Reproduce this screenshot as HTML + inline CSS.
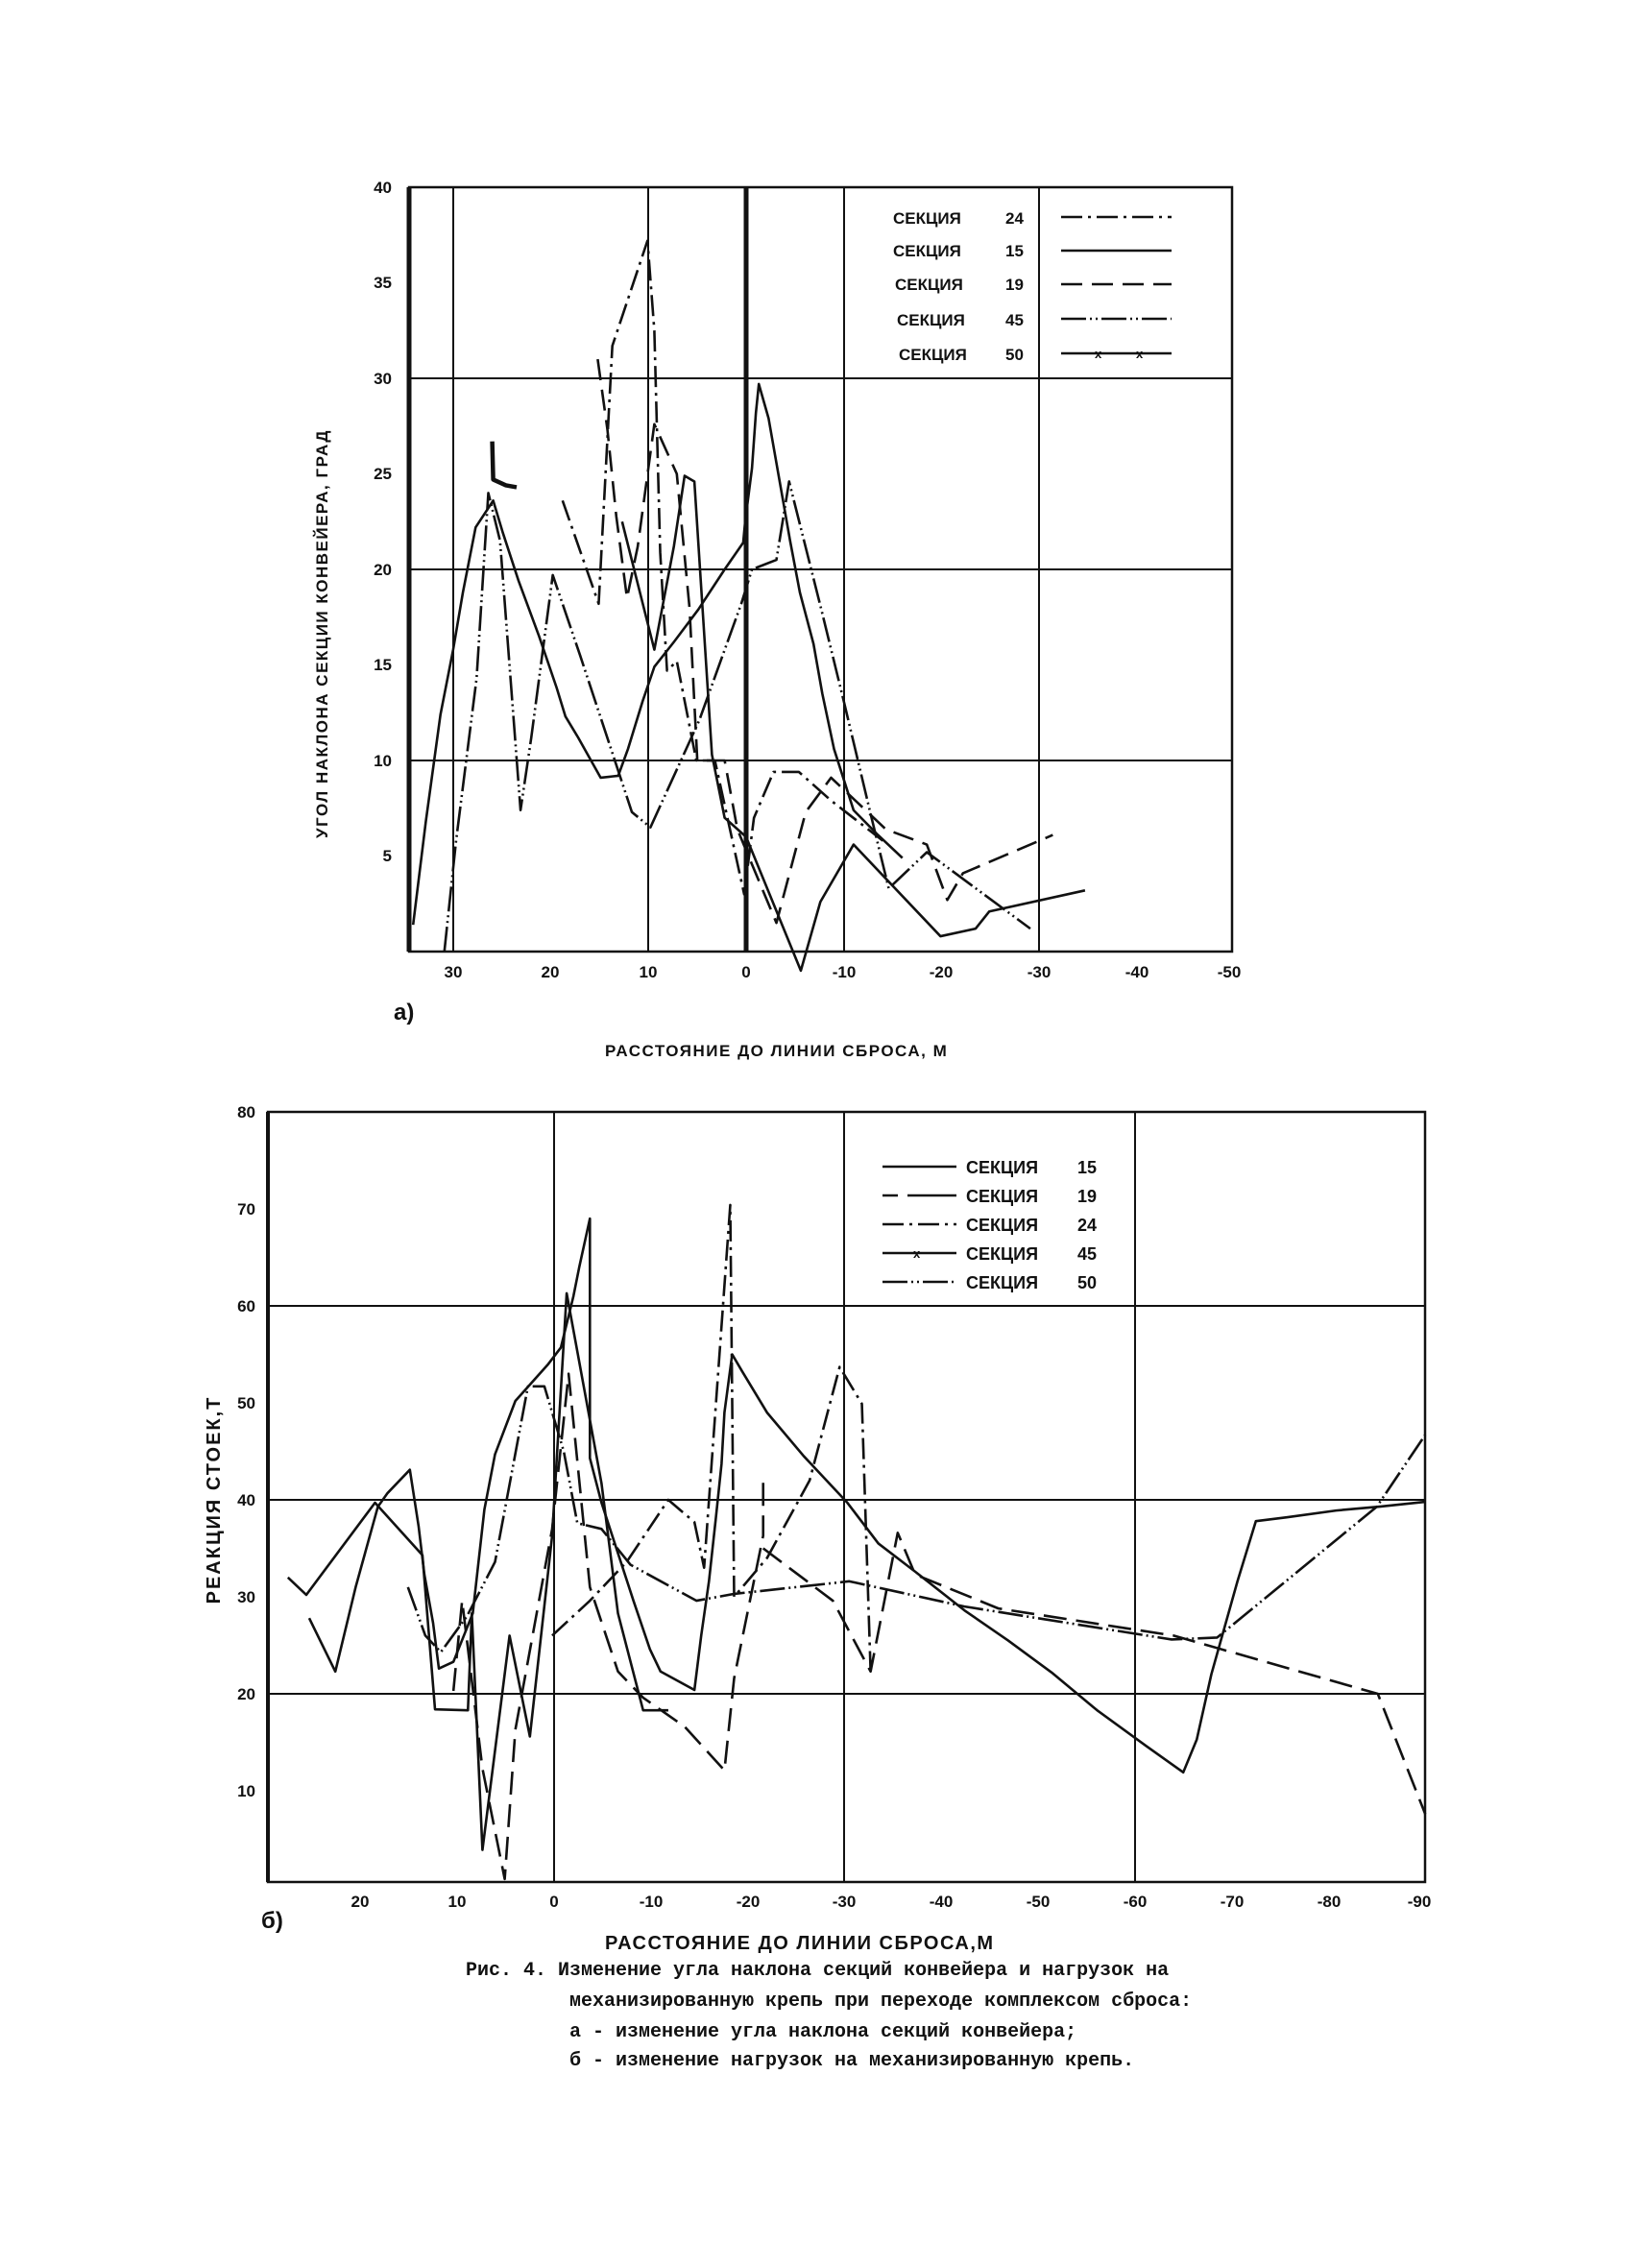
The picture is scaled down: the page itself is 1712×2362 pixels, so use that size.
<!DOCTYPE html>
<html><head><meta charset="utf-8"><style>
body{margin:0;background:#fff}
svg{display:block}
text{font-family:"Liberation Sans","DejaVu Sans",sans-serif;font-weight:bold;fill:#111}
.l{fill:none;stroke:#111;stroke-width:2.6;vector-effect:non-scaling-stroke;stroke-linejoin:round}
.g{fill:none;stroke:#111;stroke-width:2;vector-effect:non-scaling-stroke}
.cap{font-family:"Liberation Mono",monospace;font-size:20px;font-weight:bold}
</style></head><body>
<svg width="1712" height="2362" viewBox="0 0 1712 2362" xmlns="http://www.w3.org/2000/svg">
<!-- TOP CHART -->
<rect x="426" y="195" width="857" height="796" fill="none" stroke="#111" stroke-width="2.5"/>
<line x1="426" y1="195" x2="426" y2="991" stroke="#111" stroke-width="5"/>
<line x1="777" y1="195" x2="777" y2="991" stroke="#111" stroke-width="5"/>
<g stroke="#111" stroke-width="2">
<line x1="472" y1="195" x2="472" y2="991"/><line x1="675" y1="195" x2="675" y2="991"/>
<line x1="879" y1="195" x2="879" y2="991"/><line x1="1082" y1="195" x2="1082" y2="991"/>
<line x1="426" y1="394" x2="1283" y2="394"/><line x1="426" y1="593" x2="1283" y2="593"/><line x1="426" y1="792" x2="1283" y2="792"/>
</g>
<g font-size="17" text-anchor="end">
<text x="408" y="201">40</text><text x="408" y="300">35</text><text x="408" y="400">30</text><text x="408" y="499">25</text>
<text x="408" y="599">20</text><text x="408" y="698">15</text><text x="408" y="798">10</text><text x="408" y="897">5</text>
</g>
<g font-size="17" text-anchor="middle">
<text x="472" y="1018">30</text><text x="573" y="1018">20</text><text x="675" y="1018">10</text><text x="777" y="1018">0</text>
<text x="879" y="1018">-10</text><text x="980" y="1018">-20</text><text x="1082" y="1018">-30</text><text x="1184" y="1018">-40</text><text x="1280" y="1018">-50</text>
</g>
<text x="410" y="1062" font-size="24">а)</text>
<text x="630" y="1100" font-size="17" letter-spacing="1.5">РАССТОЯНИЕ ДО ЛИНИИ СБРОСА, М</text>
<text transform="translate(341,660) rotate(-90)" font-size="17" text-anchor="middle" letter-spacing="1.5">УГОЛ НАКЛОНА СЕКЦИИ КОНВЕЙЕРА, ГРАД</text>
<g font-size="17">
<text x="930" y="233">СЕКЦИЯ</text><text x="1047" y="233">24</text>
<text x="930" y="267">СЕКЦИЯ</text><text x="1047" y="267">15</text>
<text x="932" y="302">СЕКЦИЯ</text><text x="1047" y="302">19</text>
<text x="934" y="339">СЕКЦИЯ</text><text x="1047" y="339">45</text>
<text x="936" y="375">СЕКЦИЯ</text><text x="1047" y="375">50</text>
</g>
<g class="l">
<line x1="1105" y1="226" x2="1220" y2="226" stroke-dasharray="22,6,3,6"/>
<line x1="1105" y1="261" x2="1220" y2="261"/>
<line x1="1105" y1="296" x2="1220" y2="296" stroke-dasharray="22,10"/>
<line x1="1105" y1="332" x2="1220" y2="332" stroke-dasharray="26,4,2,4,2,4"/>
<line x1="1105" y1="368" x2="1220" y2="368"/>
</g>
<g font-size="13"><text x="1140" y="373">x</text><text x="1183" y="373">x</text></g>
<g transform="translate(777,991) scale(-10.17,-19.9)">
<!-- 50 -->
<polyline class="l" points="34.1,1.4 32.8,6.8 31.3,12.4 30,15.8 29,18.8 27.7,22.2 25.9,23.6 24.9,21.9 23.3,19.4 21.2,16.5 19.4,13.8 18.5,12.3 17.2,11.2 14.9,9.1 13.1,9.2 12.1,10.6 10.6,13.1 9.4,14.9 7.4,16.2 4.9,17.9 2.2,20 0.3,21.4 0.1,22.5 -0.6,25.3 -1,28.2 -1.3,29.7 -2.3,27.9 -3.4,24.7 -4.5,21.5 -5.5,18.8 -6.9,16.1 -7.8,13.5 -9,10.6 -11,7.4 -13.5,6.1 -16,4.9"/>
<polyline class="l" style="stroke-width:4.5" points="26,26.7 25.9,24.7 24.6,24.4 23.5,24.3"/>
<!-- 15 -->
<polyline class="l" points="12.7,22.5 9.4,15.8 7.4,21.2 6.3,24.9 5.3,24.6 3.5,10.3 2.2,7 0,6 -5.6,-1 -7.6,2.6 -11,5.6 -19.9,0.8 -23.5,1.2 -24.9,2.1 -34.7,3.2"/>
<!-- 19 -->
<polyline class="l" stroke-dasharray="22,10" points="15.2,31 14.2,27.3 13.3,22.8 12.2,18.5 11.1,21.2 9.4,27.6 7.1,25 5.8,18 5,10 2.2,10 0.9,6.4 -3.1,1.5 -6.1,7.3 -8.7,9.1 -14.3,6.4 -18.5,5.6 -20.6,2.7 -22.2,4.1 -31.4,6.1"/>
<!-- 24 -->
<polyline class="l" stroke-dasharray="22,6,3,6" points="18.8,23.6 15.1,18.2 13.7,31.7 10.1,37.2 9.4,32.5 8.8,20.9 8.1,14.7 7.1,15.2 5.1,10 3.2,10 0.2,3 -0.8,7 -2.8,9.4 -5.4,9.4 -8.7,7.9 -14,5.8"/>
<!-- 45 -->
<polyline class="l" stroke-dasharray="26,4,2,4,2,4" points="30.9,0 29.7,5.8 27.6,14.3 26.4,24 25.2,21.5 23.1,7.4 22,11.2 19.8,19.7 17,15.5 11.7,7.3 9.8,6.5 4.8,12.1 0.5,18.2 -0.6,20 -3.1,20.5 -4.4,24.6 -7.7,17.9 -10,13.1 -12.7,7.3 -14.6,3.3 -18.5,5.2 -29.1,1.2"/>
</g>

<!-- BOTTOM CHART -->
<rect x="279" y="1158" width="1205" height="802" fill="none" stroke="#111" stroke-width="2.5"/>
<line x1="279" y1="1158" x2="279" y2="1960" stroke="#111" stroke-width="4"/>
<g stroke="#111" stroke-width="2">
<line x1="577" y1="1158" x2="577" y2="1960"/><line x1="879" y1="1158" x2="879" y2="1960"/><line x1="1182" y1="1158" x2="1182" y2="1960"/>
<line x1="279" y1="1360" x2="1484" y2="1360"/><line x1="279" y1="1562" x2="1484" y2="1562"/><line x1="279" y1="1764" x2="1484" y2="1764"/>
</g>
<g font-size="17" text-anchor="end">
<text x="266" y="1164">80</text><text x="266" y="1265">70</text><text x="266" y="1366">60</text><text x="266" y="1467">50</text>
<text x="266" y="1568">40</text><text x="266" y="1669">30</text><text x="266" y="1770">20</text><text x="266" y="1871">10</text>
</g>
<g font-size="17" text-anchor="middle">
<text x="375" y="1986">20</text><text x="476" y="1986">10</text><text x="577" y="1986">0</text><text x="678" y="1986">-10</text>
<text x="779" y="1986">-20</text><text x="879" y="1986">-30</text><text x="980" y="1986">-40</text><text x="1081" y="1986">-50</text>
<text x="1182" y="1986">-60</text><text x="1283" y="1986">-70</text><text x="1384" y="1986">-80</text><text x="1478" y="1986">-90</text>
</g>
<text x="272" y="2008" font-size="24">б)</text>
<text x="630" y="2030" font-size="20" letter-spacing="1.5">РАССТОЯНИЕ ДО ЛИНИИ СБРОСА,М</text>
<text transform="translate(229,1562) rotate(-90)" font-size="20" text-anchor="middle" letter-spacing="2">РЕАКЦИЯ СТОЕК,Т</text>
<g font-size="18">
<text x="1006" y="1222">СЕКЦИЯ</text><text x="1122" y="1222">15</text>
<text x="1006" y="1252">СЕКЦИЯ</text><text x="1122" y="1252">19</text>
<text x="1006" y="1282">СЕКЦИЯ</text><text x="1122" y="1282">24</text>
<text x="1006" y="1312">СЕКЦИЯ</text><text x="1122" y="1312">45</text>
<text x="1006" y="1342">СЕКЦИЯ</text><text x="1122" y="1342">50</text>
</g>
<g class="l">
<line x1="919" y1="1215" x2="996" y2="1215"/>
<line x1="919" y1="1245" x2="996" y2="1245" stroke-dasharray="16,10,40,0"/>
<line x1="919" y1="1275" x2="996" y2="1275" stroke-dasharray="22,6,3,6"/>
<line x1="919" y1="1305" x2="996" y2="1305"/>
<line x1="919" y1="1335" x2="996" y2="1335" stroke-dasharray="26,4,2,4,2,4"/>
</g>
<text x="951" y="1310" font-size="13">x</text>
<g transform="translate(577,1966) scale(-10.08,-10.1)">
<!-- 15 -->
<polyline class="l" points="27.5,32 25.6,30.2 18.5,39.7 13.6,34.3 12.3,18.4 8.9,18.3 8.5,28.3 7.4,3.9 4.6,26 2.5,15.6 0.2,36.3 -1.3,61.3 -4.9,41.7 -6.6,28.3 -9.2,18.3 -11.8,18.3"/>
<!-- 45 -->
<polyline class="l" points="25.3,27.8 22.6,22.3 20.5,31 18.2,39.3 17.2,40.7 14.9,43.1 14,37.3 13.4,32.3 12.5,27.3 11.9,22.6 10.4,23.3 8.4,28.3 7.2,39 6.1,44.7 4,50.2 0.6,54 -0.7,55.7 -2,61 -2.6,64 -3.7,69 -3.7,44.3 -4.9,39.7 -8.2,29.6 -9.9,24.6 -11,22.3 -14.5,20.4 -15.2,26 -16,31.6 -16.7,38 -17.3,43.7 -17.6,49 -18.4,55 -19.4,53.3 -22,49 -25.8,44.5 -30.3,39.7 -33.5,35.5 -37.3,32.6 -42.4,28.6 -46.9,25.5 -51.4,22.2 -56.1,18.3 -61.2,14.6 -65,11.9 -66.4,15.3 -67.9,22 -70.6,31.6 -72.5,37.8 -75.7,38.2 -80.8,38.9 -85.3,39.3 -90,39.8"/>
<!-- 19 -->
<polyline class="l" stroke-dasharray="24,10" points="10.4,20.3 9.5,29.6 7.4,12.3 5.1,0.9 4,16.3 0.2,37 -1.5,53 -3.7,31 -6.6,22.3 -9.2,19.6 -13.5,16.6 -17.6,12.1 -18.6,21.6 -21.6,36.3 -21.6,42.7"/>
<polyline class="l" stroke-dasharray="24,10" points="-21.6,35 -28.8,29.6 -32.7,22.3 -35.5,36.6 -37.3,32.3 -45.9,28.8 -64,26 -85.1,20 -90,7.6"/>
<!-- 24 -->
<polyline class="l" stroke-dasharray="22,6,3,6" points="0.2,26 -3.7,29.6 -7.5,33.6 -11.8,40 -14.5,37.7 -15.5,33 -18.2,70.4 -18.6,30 -22,34 -26.4,42 -29.5,53.7 -31.8,49.9 -32.7,22.3"/>
<!-- 50 -->
<polyline class="l" stroke-dasharray="26,4,2,4,2,4" points="15.1,31 13.3,26 11.7,24.3 9,28 6.1,33.6 2.7,51.7 1,51.7 -1,45 -2.4,37.6 -4.9,37 -7.9,33.3 -14.7,29.6 -18.6,30.3 -30.5,31.6 -42.4,29 -63.8,25.6 -68.5,25.8 -85,39.3 -90,46.7"/>
</g>

<!-- CAPTION -->
<text class="cap" x="485" y="2057">Рис. 4. Изменение угла наклона секций конвейера и нагрузок на</text>
<text class="cap" x="593" y="2089">механизированную крепь при переходе комплексом сброса:</text>
<text class="cap" x="593" y="2121">а - изменение угла наклона секций конвейера;</text>
<text class="cap" x="593" y="2151">б - изменение нагрузок на механизированную крепь.</text>
</svg>
</body></html>
